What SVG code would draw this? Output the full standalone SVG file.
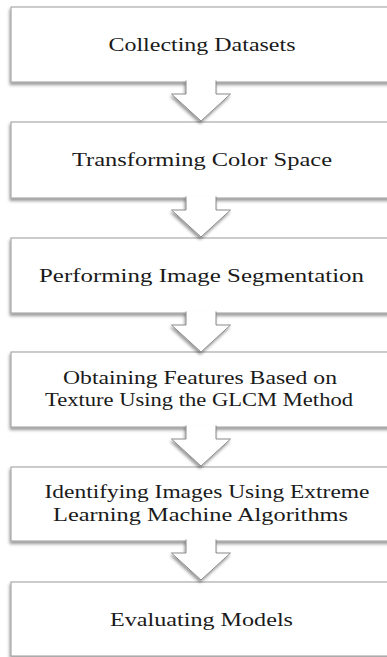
<svg xmlns="http://www.w3.org/2000/svg" width="387" height="657" viewBox="0 0 387 657">
  <style>
    .box { fill: #ffffff; stroke: #9a9a9a; stroke-width: 1; filter: url(#shadow); }
    .arrow { fill: #ffffff; stroke: #8a8a8a; stroke-width: 1; stroke-linejoin: miter; filter: url(#shadow); }
    .label { font-family: "Liberation Serif", "DejaVu Serif", serif; font-size: 18.5px; fill: #1a1a1a; text-anchor: middle; }
  </style>
  <defs>
    <filter id="shadow" x="-5%" y="-10%" width="110%" height="130%">
      <feDropShadow dx="-1" dy="2.5" stdDeviation="1.4" flood-color="#000000" flood-opacity="0.4"/>
    </filter>
    <!-- block arrow, origin at the middle of the upper box's bottom edge -->
    <path id="down" d="M-15,-1.5 V12 H-29.5 L0,39 L29.5,12 H15 V-1.5"/>
  </defs>

  <rect width="387" height="657" fill="#ffffff"/>

  <g id="step1">
    <rect class="box" x="11" y="7" width="390" height="75"/>
    <text class="label" x="202" y="50.5" textLength="187" lengthAdjust="spacingAndGlyphs">Collecting Datasets</text>
  </g>
  <g id="step2">
    <rect class="box" x="11" y="122" width="390" height="76"/>
    <text class="label" x="202" y="166" textLength="260" lengthAdjust="spacingAndGlyphs">Transforming Color Space</text>
  </g>
  <g id="step3">
    <rect class="box" x="11" y="238" width="390" height="75"/>
    <text class="label" x="201.5" y="281.5" textLength="325" lengthAdjust="spacingAndGlyphs">Performing Image Segmentation</text>
  </g>
  <g id="step4">
    <rect class="box" x="11" y="352" width="390" height="75"/>
    <text class="label" x="200" y="384" textLength="274" lengthAdjust="spacingAndGlyphs">Obtaining Features Based on</text>
    <text class="label" x="199" y="406" textLength="308" lengthAdjust="spacingAndGlyphs">Texture Using the GLCM Method</text>
  </g>
  <g id="step5">
    <rect class="box" x="11" y="467" width="390" height="74"/>
    <text class="label" x="207" y="498" textLength="325" lengthAdjust="spacingAndGlyphs">Identifying Images Using Extreme</text>
    <text class="label" x="200.5" y="521" textLength="295" lengthAdjust="spacingAndGlyphs">Learning Machine Algorithms</text>
  </g>
  <g id="step6">
    <rect class="box" x="11" y="582" width="390" height="74"/>
    <text class="label" x="201.5" y="625.5" textLength="183" lengthAdjust="spacingAndGlyphs">Evaluating Models</text>
  </g>

  <g id="connectors">
    <use href="#down" class="arrow" transform="translate(201,82)"/>
    <use href="#down" class="arrow" transform="translate(201,198)"/>
    <use href="#down" class="arrow" transform="translate(201,313)"/>
    <use href="#down" class="arrow" transform="translate(201,427)"/>
    <use href="#down" class="arrow" transform="translate(201,541)"/>
  </g>
</svg>
